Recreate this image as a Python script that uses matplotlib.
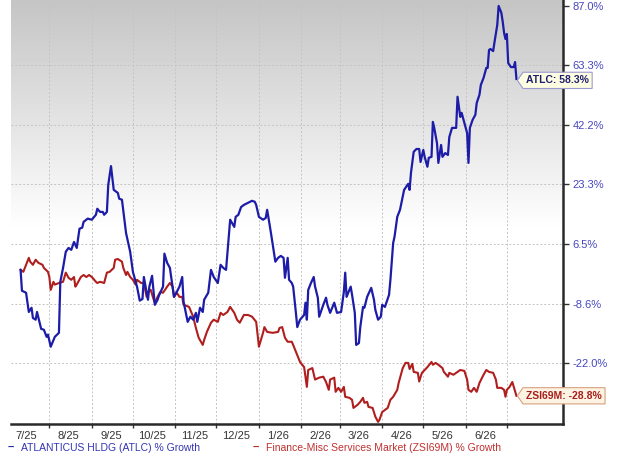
import numpy as np
import pandas as pd
import matplotlib
matplotlib.use('Agg')
import matplotlib.pyplot as plt
import matplotlib.dates as mdates
from matplotlib.path import Path

plt.rcParams['font.family'] = ['Liberation Sans', 'DejaVu Sans']

# ATLANTICUS HLDG (ATLC) % growth
atlc_dates = [
    '2025-07-11', '2025-07-12', '2025-07-15', '2025-07-16', '2025-07-17', '2025-07-19', '2025-07-20',
    '2025-07-22', '2025-07-23', '2025-07-26', '2025-07-28', '2025-07-30', '2025-07-31', '2025-08-02',
    '2025-08-05', '2025-08-08', '2025-08-09', '2025-08-11', '2025-08-13', '2025-08-15', '2025-08-17',
    '2025-08-19', '2025-08-20', '2025-08-21', '2025-08-23', '2025-08-25', '2025-08-26', '2025-08-29',
    '2025-09-01', '2025-09-04', '2025-09-05', '2025-09-07', '2025-09-09', '2025-09-10', '2025-09-12',
    '2025-09-13', '2025-09-15', '2025-09-17', '2025-09-20', '2025-09-21', '2025-09-23', '2025-09-26',
    '2025-09-29', '2025-10-01', '2025-10-04', '2025-10-06', '2025-10-08', '2025-10-09', '2025-10-12',
    '2025-10-13', '2025-10-15', '2025-10-17', '2025-10-19', '2025-10-20', '2025-10-23', '2025-10-24',
    '2025-10-26', '2025-10-28', '2025-10-31', '2025-11-02', '2025-11-04', '2025-11-06', '2025-11-07',
    '2025-11-10', '2025-11-12', '2025-11-14', '2025-11-16', '2025-11-17', '2025-11-19', '2025-11-21',
    '2025-11-22', '2025-11-25', '2025-11-27', '2025-11-29', '2025-12-02', '2025-12-04', '2025-12-06',
    '2025-12-08', '2025-12-09', '2025-12-11', '2025-12-14', '2025-12-15', '2025-12-17', '2025-12-19',
    '2025-12-21', '2025-12-24', '2025-12-27', '2025-12-29', '2025-12-30', '2026-01-01', '2026-01-04',
    '2026-01-06', '2026-01-07', '2026-01-08', '2026-01-10', '2026-01-13', '2026-01-15', '2026-01-17',
    '2026-01-19', '2026-01-20', '2026-01-22', '2026-01-23', '2026-01-25', '2026-01-26', '2026-01-28',
    '2026-01-29', '2026-01-31', '2026-02-03', '2026-02-04', '2026-02-05', '2026-02-06', '2026-02-08',
    '2026-02-10', '2026-02-11', '2026-02-13', '2026-02-14', '2026-02-17', '2026-02-19', '2026-02-20',
    '2026-02-22', '2026-02-25', '2026-02-27', '2026-03-02', '2026-03-04', '2026-03-05', '2026-03-06',
    '2026-03-08', '2026-03-09', '2026-03-10', '2026-03-12', '2026-03-13', '2026-03-15', '2026-03-16',
    '2026-03-18', '2026-03-19', '2026-03-21', '2026-03-24', '2026-03-26', '2026-03-27', '2026-03-29',
    '2026-03-31', '2026-04-01', '2026-04-03', '2026-04-06', '2026-04-07', '2026-04-09', '2026-04-10',
    '2026-04-12', '2026-04-14', '2026-04-17', '2026-04-20', '2026-04-21', '2026-04-22', '2026-04-24',
    '2026-04-26', '2026-04-28', '2026-04-29', '2026-05-01', '2026-05-02', '2026-05-04', '2026-05-05',
    '2026-05-07', '2026-05-08', '2026-05-09', '2026-05-11', '2026-05-12', '2026-05-14', '2026-05-15',
    '2026-05-17', '2026-05-19', '2026-05-20', '2026-05-22', '2026-05-24', '2026-05-25', '2026-05-26',
    '2026-05-28', '2026-05-29', '2026-05-31', '2026-06-01', '2026-06-02', '2026-06-03', '2026-06-04',
    '2026-06-06', '2026-06-08', '2026-06-09', '2026-06-11', '2026-06-12', '2026-06-14', '2026-06-16',
    '2026-06-17', '2026-06-18', '2026-06-19', '2026-06-21', '2026-06-22', '2026-06-24', '2026-06-25',
    '2026-06-27', '2026-06-28', '2026-06-29', '2026-06-30', '2026-07-01', '2026-07-02', '2026-07-04',
    '2026-07-06', '2026-07-07', '2026-07-08',
]
atlc_values = [
    -0.3, -5.5, -6.0, -8.4, -10.6, -9.6, -12.0,
    -12.4, -10.6, -14.5, -14.7, -16.3, -15.8, -18.5,
    -16.3, -15.4, -3.3, 0.2, 4.4, 5.4, 4.9,
    7.0, 6.2, 5.4, 10.6, 10.9, 12.5, 13.4,
    13.1, 14.5, 16.2, 15.3, 15.3, 14.5, 15.3,
    23.2, 28.9, 21.7, 20.8, 19.1, 18.8, 9.4,
    4.4, -0.8, -4.5, -7.9, -7.5, -2.1, -7.7,
    -4.5, -1.8, -8.9, -7.7, -6.7, -4.5, 3.9,
    1.5, 0.2, -7.0, -5.8, -4.5, -2.1, -8.2,
    -12.9, -11.7, -12.4, -10.8, -12.9, -9.6, -10.6,
    -7.7, -6.0, -0.3, -2.1, -3.6, 1.0, 0.2,
    -0.3, 4.1, 13.1, 11.1, 13.9, 14.5, 16.7,
    17.3, 17.9, 18.5, 18.2, 17.3, 13.9, 13.1,
    13.6, 15.9, 13.6, 8.9, 1.8, 2.8, 3.3,
    2.8, -2.3, 2.8, -2.8, -3.6, -4.5, -10.8,
    -14.1, -12.4, -11.3, -8.4, -12.4, -5.3, -3.6,
    -2.1, -4.5, -7.2, -11.7, -8.9, -7.2, -8.9,
    -10.8, -8.4, -10.8, -10.6, -5.8, -1.0, -7.0,
    -5.3, -4.5, -6.5, -10.8, -18.1, -17.7, -14.1,
    -9.4, -9.6, -7.0, -4.8, -7.7, -10.1, -12.4,
    -11.7, -8.9, -9.4, -6.5, -2.8, 6.7, 8.4,
    13.9, 15.9, 21.7, 23.5, 21.7, 26.8, 33.4,
    34.3, 34.3, 30.2, 34.0, 31.8, 28.7, 31.5,
    31.8, 43.2, 41.2, 36.2, 29.9, 35.6, 31.8,
    33.0, 32.4, 38.2, 41.2, 41.2, 41.2, 51.9,
    44.9, 46.3, 42.9, 41.2, 39.5, 29.9, 41.2,
    43.9, 45.6, 49.7, 52.6, 56.1, 58.7, 62.4,
    62.4, 69.2, 69.6, 68.8, 72.3, 79.1, 87.0,
    84.1, 80.4, 75.9, 73.5, 75.5, 64.2, 62.7,
    62.7, 64.6, 58.3,
]

# Finance-Misc Services Market (ZSI69M) % growth
zsi_dates = [
    '2025-07-11', '2025-07-13', '2025-07-17', '2025-07-18', '2025-07-20', '2025-07-22', '2025-07-24',
    '2025-07-27', '2025-07-28', '2025-07-31', '2025-08-01', '2025-08-02', '2025-08-04', '2025-08-05',
    '2025-08-08', '2025-08-11', '2025-08-13', '2025-08-15', '2025-08-17', '2025-08-19', '2025-08-20',
    '2025-08-21', '2025-08-24', '2025-08-26', '2025-08-28', '2025-08-30', '2025-09-01', '2025-09-04',
    '2025-09-05', '2025-09-07', '2025-09-10', '2025-09-12', '2025-09-14', '2025-09-17', '2025-09-18',
    '2025-09-20', '2025-09-23', '2025-09-24', '2025-09-26', '2025-09-27', '2025-09-29', '2025-10-01',
    '2025-10-03', '2025-10-04', '2025-10-07', '2025-10-09', '2025-10-11', '2025-10-12', '2025-10-14',
    '2025-10-16', '2025-10-17', '2025-10-19', '2025-10-21', '2025-10-23', '2025-10-26', '2025-10-28',
    '2025-10-30', '2025-10-31', '2025-11-02', '2025-11-04', '2025-11-06', '2025-11-07', '2025-11-11',
    '2025-11-14', '2025-11-16', '2025-11-18', '2025-11-21', '2025-11-22', '2025-11-24', '2025-11-27',
    '2025-11-29', '2025-12-02', '2025-12-04', '2025-12-06', '2025-12-09', '2025-12-11', '2025-12-14',
    '2025-12-16', '2025-12-18', '2025-12-21', '2025-12-24', '2025-12-27', '2025-12-30', '2026-01-01',
    '2026-01-04', '2026-01-05', '2026-01-07', '2026-01-11', '2026-01-15', '2026-01-16', '2026-01-18',
    '2026-01-20', '2026-01-22', '2026-01-25', '2026-01-26', '2026-01-29', '2026-01-31', '2026-02-03',
    '2026-02-05', '2026-02-06', '2026-02-09', '2026-02-11', '2026-02-14', '2026-02-17', '2026-02-19',
    '2026-02-21', '2026-02-22', '2026-02-25', '2026-02-26', '2026-02-28', '2026-03-02', '2026-03-04',
    '2026-03-05', '2026-03-08', '2026-03-10', '2026-03-11', '2026-03-14', '2026-03-16', '2026-03-18',
    '2026-03-19', '2026-03-21', '2026-03-22', '2026-03-25', '2026-03-27', '2026-03-29', '2026-03-30',
    '2026-04-01', '2026-04-03', '2026-04-05', '2026-04-07', '2026-04-09', '2026-04-12', '2026-04-13',
    '2026-04-16', '2026-04-18', '2026-04-20', '2026-04-21', '2026-04-23', '2026-04-24', '2026-04-27',
    '2026-04-28', '2026-04-30', '2026-05-02', '2026-05-04', '2026-05-07', '2026-05-08', '2026-05-10',
    '2026-05-12', '2026-05-15', '2026-05-16', '2026-05-19', '2026-05-20', '2026-05-23', '2026-05-26',
    '2026-05-28', '2026-05-31', '2026-06-02', '2026-06-03', '2026-06-05', '2026-06-07', '2026-06-09',
    '2026-06-11', '2026-06-14', '2026-06-16', '2026-06-18', '2026-06-21', '2026-06-23', '2026-06-24',
    '2026-06-27', '2026-06-29', '2026-06-30', '2026-07-01', '2026-07-03', '2026-07-05', '2026-07-08',
]
zsi_values = [
    -0.3, -0.8, 2.8, 1.8, 1.0, 2.3, 1.5,
    1.0, 0.2, -0.8, -2.1, -5.3, -3.3, -4.0,
    -3.6, -3.3, -1.0, -2.3, -2.8, -2.1, -4.5,
    -4.0, -2.1, -1.6, -2.1, -1.6, -2.1, -3.3,
    -3.6, -3.3, -3.6, -1.0, -0.8, 0.2, 2.3,
    2.5, 1.8, 0.2, -1.6, -0.8, -2.1, -2.8,
    -4.0, -2.8, -3.6, -3.6, -7.0, -5.8, -5.3,
    -7.5, -8.4, -7.0, -5.8, -6.0, -4.5, -3.6,
    -4.5, -7.0, -6.0, -7.0, -7.0, -8.9, -9.4,
    -11.7, -14.3, -16.5, -18.1, -17.0, -15.2, -13.1,
    -12.4, -12.9, -10.8, -11.3, -10.6, -9.4, -10.8,
    -12.4, -13.1, -11.3, -11.3, -11.7, -12.9, -18.5,
    -15.4, -14.1, -15.2, -15.4, -15.2, -14.3, -14.1,
    -16.5, -17.4, -17.4, -18.1, -20.3, -21.8, -22.9,
    -27.0, -23.5, -23.1, -25.5, -25.1, -24.9, -26.0,
    -27.6, -25.5, -25.1, -28.0, -27.2, -28.0, -27.0,
    -29.0, -29.2, -29.6, -31.2, -30.6, -30.0, -29.2,
    -30.2, -30.0, -31.0, -31.2, -32.9, -33.9, -33.5,
    -32.0, -31.6, -31.2, -29.6, -29.0, -27.6, -26.2,
    -23.1, -22.0, -22.0, -23.3, -22.2, -23.9, -24.1,
    -25.9, -24.1, -23.5, -22.9, -21.8, -22.4, -22.0,
    -22.4, -23.1, -23.9, -24.9, -24.1, -24.5, -23.9,
    -23.5, -23.7, -25.5, -27.6, -28.0, -27.2, -28.0,
    -26.2, -24.5, -23.5, -23.9, -24.1, -25.5, -27.2,
    -27.2, -27.6, -29.0, -27.6, -27.0, -26.0, -28.8,
]

y_ticks = [87.0, 63.3, 42.2, 23.3, 6.5, -8.6, -22.0]
month_labels = ['7/25', '8/25', '9/25', '10/25', '11/25', '12/25',
                '1/26', '2/26', '3/26', '4/26', '5/26', '6/26']

BLUE = '#1c1ca8'
RED = '#b01e1e'
OFFSET = 134.0  # the chart's y scale is logarithmic in (value + offset)


def fwd(v):
    return np.log(np.maximum(np.asarray(v, dtype=float) + OFFSET, 1e-6))


def inv(t):
    return np.exp(t) - OFFSET


def tag_box(x0, y0, width, height, mutation_size):
    """label box with a small point on its left side"""
    pad = mutation_size * 0.3
    x0, y0 = x0 - pad, y0 - pad
    width, height = width + 2 * pad, height + 2 * pad
    tip = height * 0.35
    verts = [(x0, y0), (x0 + width, y0), (x0 + width, y0 + height),
             (x0, y0 + height), (x0 - tip, y0 + height / 2), (x0, y0), (x0, y0)]
    codes = [Path.MOVETO] + [Path.LINETO] * 5 + [Path.CLOSEPOLY]
    return Path(verts, codes)


atlc_x = pd.to_datetime(atlc_dates)
zsi_x = pd.to_datetime(zsi_dates)

fig = plt.figure(figsize=(6.19, 4.59), dpi=100)
ax = fig.add_axes([11 / 619, 35 / 459, 552 / 619, 424 / 459])

# gray to white background fade at the top of the plot
grad = np.ones((424, 2))
rows = np.arange(424)
grad[:, :] = np.clip(0.77 + 0.23 * rows / 230.0, 0, 1)[:, None]
ax.imshow(grad, cmap='gray', vmin=0, vmax=1, aspect='auto',
          extent=[0, 1, 0, 1], transform=ax.transAxes, zorder=0)

ax.plot(zsi_x, zsi_values, color=RED, lw=1.5, zorder=3)
ax.plot(atlc_x, atlc_values, color=BLUE, lw=1.6, zorder=4)

ax.set_yscale('function', functions=(fwd, inv))
ax.set_ylim(-34.3, 89.5)
ax.set_xlim(pd.Timestamp('2025-07-04'), pd.Timestamp('2026-08-11'))

ax.yaxis.tick_right()
ax.set_yticks(y_ticks)
ax.set_yticklabels([f'{v:.1f}%' for v in y_ticks])
ax.yaxis.set_minor_locator(matplotlib.ticker.NullLocator())

month_starts = pd.date_range('2025-08-01', '2026-07-01', freq='MS')
label_pos = pd.date_range('2025-07-01', '2026-06-01', freq='MS') + pd.Timedelta(days=14)
ax.set_xticks(month_starts)
ax.set_xticklabels([''] * len(month_starts))
ax.set_xticks(label_pos, minor=True)
ax.set_xticklabels(month_labels, minor=True)

ax.tick_params(axis='x', which='major', length=3, width=1, color='#333333', direction='out')
ax.tick_params(axis='x', which='minor', length=0, pad=5, labelsize=8, labelcolor='#333333')
ax.tick_params(axis='y', which='major', length=4, width=1, color='#333333', direction='out',
               pad=3, labelsize=8, labelcolor='#4646c0')

ax.grid(True, which='major', axis='both', linestyle=(0, (2, 2)), color='#c4c4c4', lw=0.7)
ax.set_axisbelow(True)

for side in ['left', 'top']:
    ax.spines[side].set_visible(False)
for side in ['bottom', 'right']:
    ax.spines[side].set_color('#2a2a2a')
    ax.spines[side].set_linewidth(1.8)

# end-of-line value tags
ax.annotate(f'ATLC: {atlc_values[-1]:.1f}%', xy=(atlc_x[-1], atlc_values[-1]),
            xytext=(7, -1), textcoords='offset points', ha='left', va='center',
            fontsize=7.5, fontweight='bold', color='#1e1e6e', zorder=6,
            bbox=dict(boxstyle=tag_box, fc='#fdfde2', ec='#9a9ad0', lw=0.8))
ax.annotate(f'ZSI69M: {zsi_values[-1]:.1f}%', xy=(zsi_x[-1], zsi_values[-1]),
            xytext=(7, 0), textcoords='offset points', ha='left', va='center',
            fontsize=7.5, fontweight='bold', color='#a81e1e', zorder=6,
            bbox=dict(boxstyle=tag_box, fc='#fdf3e2', ec='#d8a080', lw=0.8))

# legend row under the chart
fig.text(8 / 619, 1 - 448 / 459, '–', color=BLUE, fontsize=8, fontweight='bold', va='center')
fig.text(21 / 619, 1 - 448 / 459, 'ATLANTICUS HLDG (ATLC) % Growth', color='#3434b4',
         fontsize=7.5, va='center')
fig.text(253 / 619, 1 - 448 / 459, '–', color=RED, fontsize=8, fontweight='bold', va='center')
fig.text(266 / 619, 1 - 448 / 459, 'Finance-Misc Services Market (ZSI69M) % Growth',
         color='#c03030', fontsize=7.5, va='center')

fig.savefig('out.png', dpi=100)
